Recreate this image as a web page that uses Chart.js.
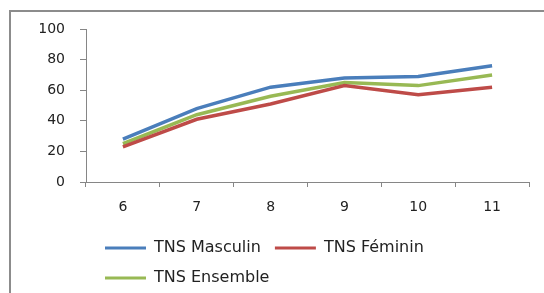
<!DOCTYPE html>
<html>
<head>
<meta charset="utf-8">
<script src="https://cdn.jsdelivr.net/npm/chart.js@4"></script>
<style>
  html, body { margin: 0; padding: 0; background: #fff; overflow: hidden; }
  #frame { position: absolute; left: 9px; top: 10px; width: 600px; height: 300px;
           border-left: 2px solid #8c8c8c; border-top: 2px solid #8c8c8c; }
  #wrap { position: absolute; left: 0; top: 0; width: 544px; height: 296px; }
</style>
</head>
<body>
<div id="frame"></div>
<div id="wrap"><canvas id="myChart"></canvas></div>
<script>
var ages = ['6', '7', '8', '9', '10', '11'];
var tnsMasculin = [28, 48, 62, 68, 69, 76];
var tnsFeminin = [23, 41, 51, 63, 57, 62];
var tnsEnsemble = [25, 44, 56, 65, 63, 70];
var yTicks = [0, 20, 40, 60, 80, 100];

var axisColor = '#868686';

function serie(label, data, color) {
    return {
        label: label,
        data: data,
        borderColor: color,
        backgroundColor: color,
        borderWidth: 3.5,
        pointRadius: 0,
        tension: 0
    };
}

// nudge the legend a bit to the right, like the original
var legendShift = {
    id: 'legendShift',
    afterLayout: function (chart) {
        chart.legend.left += 5;
        chart.legend.right += 5;
    }
};

Chart.defaults.font.family = '"DejaVu Sans", Verdana, sans-serif';
Chart.defaults.color = '#222';

var ctx = document.getElementById('myChart').getContext('2d');
var myChart = new Chart(ctx, {
    type: 'line',
    data: {
        labels: ages,
        datasets: [
            serie('TNS Masculin', tnsMasculin, '#4A7EBB'),
            serie('TNS Féminin', tnsFeminin, '#BE4B48'),
            serie('TNS Ensemble', tnsEnsemble, '#98B954')
        ]
    },
    plugins: [legendShift],
    options: {
        responsive: true,
        maintainAspectRatio: false,
        animation: false,
        layout: { padding: { left: 40, right: 15, top: 29, bottom: 0 } },
        plugins: {
            tooltip: { enabled: false },
            legend: {
                position: 'bottom',
                align: 'start',
                fullSize: false,
                labels: {
                    boxWidth: 41,
                    boxHeight: 3,
                    padding: 14,
                    color: '#222',
                    font: { size: 16 },
                    generateLabels: function (chart) {
                        var items = Chart.defaults.plugins.legend.labels.generateLabels(chart);
                        items.forEach(function (it) { it.lineWidth = 0; });
                        return items;
                    }
                }
            }
        },
        scales: {
            x: {
                offset: true,
                grid: { display: true, drawOnChartArea: false, offset: true, tickLength: 5, color: axisColor },
                border: { color: axisColor, width: 1 },
                ticks: { padding: 12, font: { size: 14 } },
                afterFit: function (s) { s.height = 44; }
            },
            y: {
                min: 0,
                max: 100,
                afterBuildTicks: function (s) { s.ticks = yTicks.map(function (v) { return { value: v }; }); },
                grid: { display: true, drawOnChartArea: false, tickLength: 6, color: axisColor },
                border: { color: axisColor, width: 1 },
                ticks: { padding: 15, font: { size: 14 } },
                afterFit: function (s) { s.width = 46; }
            }
        }
    }
});
</script>
</body>
</html>
